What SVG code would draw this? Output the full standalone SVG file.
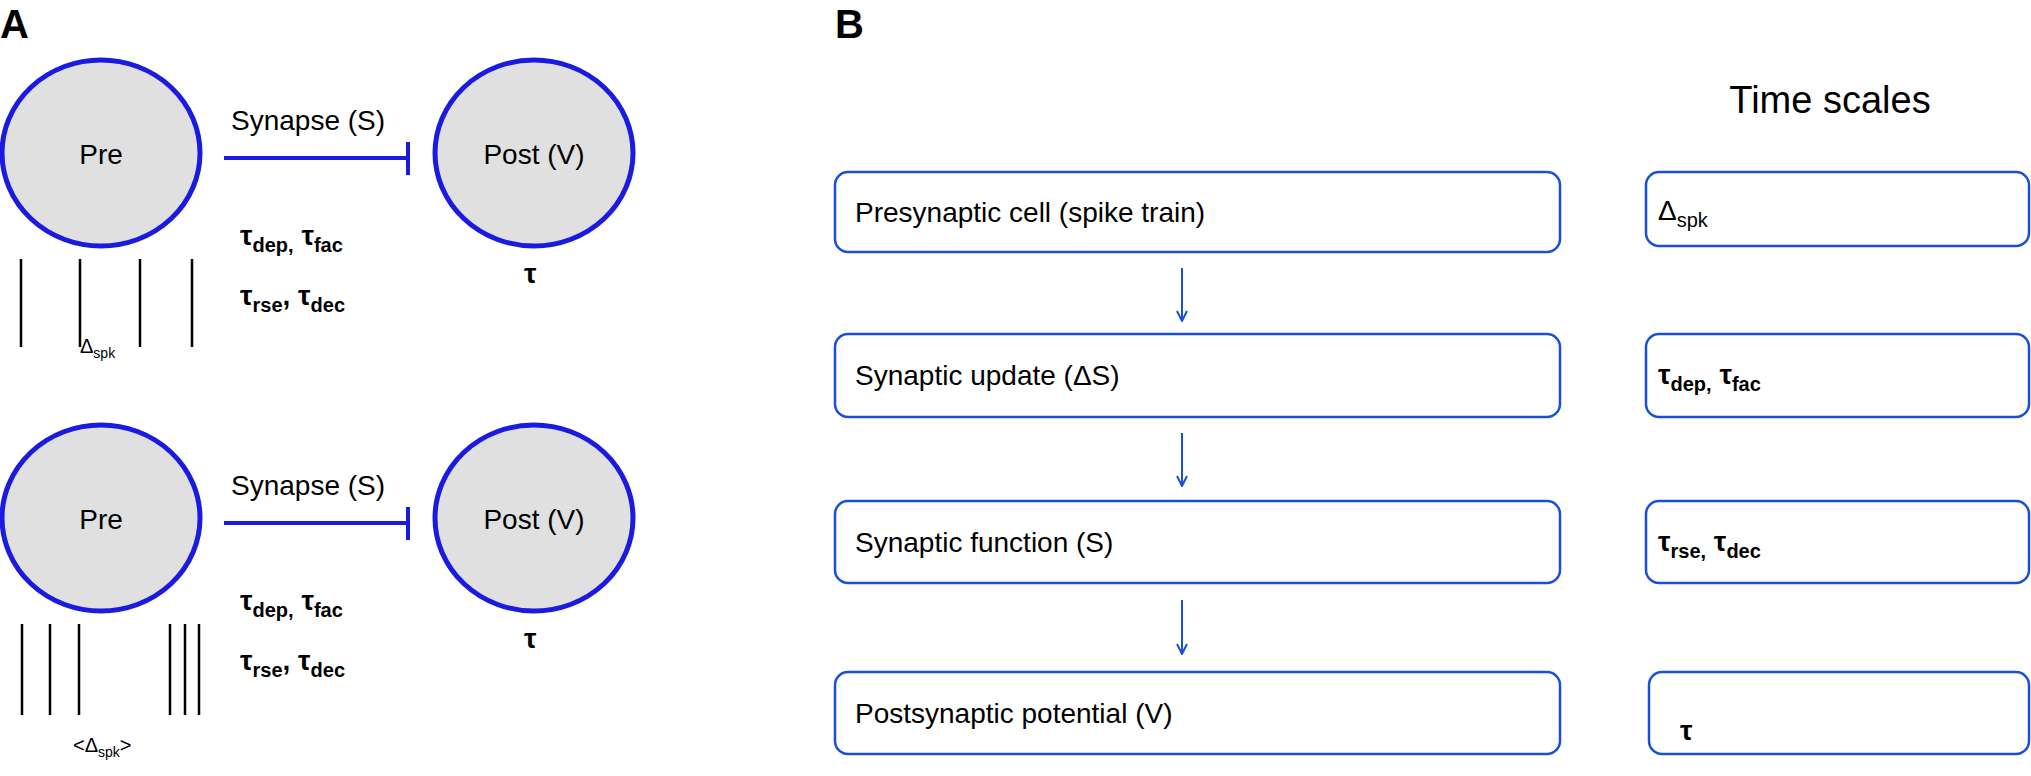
<svg xmlns="http://www.w3.org/2000/svg" width="2031" height="776" viewBox="0 0 2031 776">
<defs>
<style>
text{font-family:"Liberation Sans",Arial,sans-serif;fill:#000}
.cell{fill:#e0e0e0;stroke:#1a1ae0;stroke-width:5}
.syn{stroke:#1a1ae0;stroke-width:4;fill:none}
.spk{stroke:#000;stroke-width:2.5}
.box{fill:#fff;stroke:#1a50d8;stroke-width:2.5}
.lbl{font-size:28px}
.tau{font-size:28px;font-weight:bold}
.sub{font-size:20px}
.arr{stroke:#1a50d8;stroke-width:2;fill:none}
.pl{font-size:40px;font-weight:bold}
</style>
<marker id="ah" viewBox="0 0 12 12" refX="11" refY="6" markerWidth="12" markerHeight="12" markerUnits="userSpaceOnUse" orient="auto"><path d="M1,1 L11,6 L1,11" fill="none" stroke="#1a50d8" stroke-width="2"/></marker>
</defs>
<text class="pl" x="0" y="38">A</text>
<text class="pl" x="835" y="38">B</text>

<g id="pre1"><ellipse class="cell" cx="101" cy="153" rx="99" ry="93"/><text class="lbl" x="101" y="164" text-anchor="middle">Pre</text></g>
<g id="post1"><ellipse class="cell" cx="534" cy="153" rx="99" ry="93"/><text class="lbl" x="534" y="164" text-anchor="middle">Post (V)</text></g>
<g id="pre2"><ellipse class="cell" cx="101" cy="518" rx="99" ry="93"/><text class="lbl" x="101" y="529" text-anchor="middle">Pre</text></g>
<g id="post2"><ellipse class="cell" cx="534" cy="518" rx="99" ry="93"/><text class="lbl" x="534" y="529" text-anchor="middle">Post (V)</text></g>

<g id="connectors">
<path class="syn" d="M224,158 H408 M408,142 V175"/>
<path class="syn" d="M224,523 H408 M408,507 V540"/>
<path class="arr" marker-end="url(#ah)" d="M1182,268 V321"/>
<path class="arr" marker-end="url(#ah)" d="M1182,433 V486"/>
<path class="arr" marker-end="url(#ah)" d="M1182,600 V654"/>
</g>

<g id="labelsA">
<text class="lbl" x="231" y="130">Synapse (S)</text>
<text class="tau" x="240" y="245">τ<tspan class="sub" dy="7">dep,</tspan><tspan dy="-7"> τ</tspan><tspan class="sub" dy="7">fac</tspan></text>
<text class="tau" x="240" y="305">τ<tspan class="sub" dy="7">rse</tspan><tspan dy="-7">,  τ</tspan><tspan class="sub" dy="7">dec</tspan></text>
<text class="tau" x="524" y="283">τ</text>
<text class="lbl" x="231" y="495">Synapse (S)</text>
<text class="tau" x="240" y="610">τ<tspan class="sub" dy="7">dep,</tspan><tspan dy="-7"> τ</tspan><tspan class="sub" dy="7">fac</tspan></text>
<text class="tau" x="240" y="670">τ<tspan class="sub" dy="7">rse</tspan><tspan dy="-7">,  τ</tspan><tspan class="sub" dy="7">dec</tspan></text>
<text class="tau" x="524" y="648">τ</text>
</g>

<g id="train1">
<path class="spk" d="M21,259V347M80,259V347M140,259V347M192,259V347"/>
<text x="80" y="353" font-size="20">Δ<tspan font-size="14" dy="5">spk</tspan></text>
</g>
<g id="train2">
<path class="spk" d="M22,624V715M50,624V715M79,624V715M170,624V715M185,624V715M199,624V715"/>
<text x="73" y="752" font-size="20">&lt;Δ<tspan font-size="14" dy="5">spk</tspan><tspan dy="-5">&gt;</tspan></text>
</g>

<text x="1830" y="113" font-size="38" text-anchor="middle">Time scales</text>

<g id="b1"><rect class="box" x="835" y="172" width="725" height="80" rx="13"/><text class="lbl" x="855" y="222">Presynaptic cell (spike train)</text></g>
<g id="b2"><rect class="box" x="835" y="334" width="725" height="83" rx="13"/><text class="lbl" x="855" y="385">Synaptic update (ΔS)</text></g>
<g id="b3"><rect class="box" x="835" y="501" width="725" height="82" rx="13"/><text class="lbl" x="855" y="552">Synaptic function (S)</text></g>
<g id="b4"><rect class="box" x="835" y="672" width="725" height="82" rx="13"/><text class="lbl" x="855" y="723">Postsynaptic potential (V)</text></g>

<g id="t1"><rect class="box" x="1646" y="172" width="383" height="74" rx="13"/><text class="lbl" x="1658" y="220">Δ<tspan class="sub" dy="7">spk</tspan></text></g>
<g id="t2"><rect class="box" x="1646" y="334" width="383" height="83" rx="13"/><text class="tau" x="1658" y="384">τ<tspan class="sub" dy="7">dep,</tspan><tspan dy="-7"> τ</tspan><tspan class="sub" dy="7">fac</tspan></text></g>
<g id="t3"><rect class="box" x="1646" y="501" width="383" height="82" rx="13"/><text class="tau" x="1658" y="551">τ<tspan class="sub" dy="7">rse,</tspan><tspan dy="-7"> τ</tspan><tspan class="sub" dy="7">dec</tspan></text></g>
<g id="t4"><rect class="box" x="1649" y="672" width="380" height="82" rx="13"/><text class="tau" x="1680" y="740">τ</text></g>
</svg>
